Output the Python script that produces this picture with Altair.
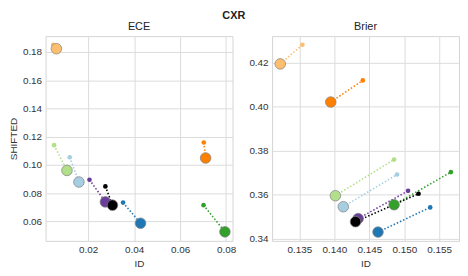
import altair as alt
import pandas as pd

series = ["s1", "s2", "s3", "s4", "s5", "s6", "s7", "s8"]
colors = ["#fdbf6f", "#ff7f00", "#b2df8a", "#33a02c", "#a6cee3", "#1f78b4", "#6a3d9a", "#000000"]

# ECE panel: small marker (before) and large marker (after)
ece_id_small = [0.0048, 0.0703, 0.0052, 0.0702, 0.0120, 0.0352, 0.0206, 0.0275]
ece_sh_small = [0.1851, 0.1159, 0.1140, 0.0715, 0.1054, 0.0733, 0.0895, 0.0848]
ece_id_large = [0.0062, 0.0711, 0.0108, 0.0795, 0.0160, 0.0428, 0.0275, 0.0306]
ece_sh_large = [0.1823, 0.1049, 0.0961, 0.0526, 0.0879, 0.0587, 0.0738, 0.0715]

# Brier panel
bri_id_small = [0.13542, 0.14406, 0.14854, 0.15667, 0.14897, 0.15371, 0.15054, 0.15204]
bri_sh_small = [0.4281, 0.4119, 0.3760, 0.3703, 0.3692, 0.3543, 0.3618, 0.3605]
bri_id_large = [0.13225, 0.13948, 0.14014, 0.14854, 0.14127, 0.14624, 0.14340, 0.14302]
bri_sh_large = [0.4194, 0.4021, 0.3596, 0.3555, 0.3546, 0.3431, 0.3492, 0.3478]

ece_x_ticks = [0.02, 0.04, 0.06, 0.08]
ece_y_ticks = [0.06, 0.08, 0.10, 0.12, 0.14, 0.16, 0.18]
bri_x_ticks = [0.135, 0.140, 0.145, 0.150, 0.155]
bri_y_ticks = [0.34, 0.36, 0.38, 0.40, 0.42]

ece_x_dom = [0.0015, 0.0828]
ece_y_dom = [0.0462, 0.1912]
bri_x_dom = [0.13108, 0.15783]
bri_y_dom = [0.3391, 0.4320]


def make_df(ids, shs, idl, shl):
    rows = []
    for i, s in enumerate(series):
        rows.append({"series": s, "order": i, "stage": "small", "ID": ids[i], "SHIFTED": shs[i]})
        rows.append({"series": s, "order": i, "stage": "large", "ID": idl[i], "SHIFTED": shl[i]})
    return pd.DataFrame(rows)


color_scale = alt.Scale(domain=series, range=colors)


def panel(df, title, xdom, ydom, xt, yt, xfmt, yfmt, ytitle):
    x = alt.X("ID:Q", scale=alt.Scale(domain=xdom, nice=False, zero=False),
              axis=alt.Axis(values=xt, format=xfmt, title="ID"))
    y = alt.Y("SHIFTED:Q", scale=alt.Scale(domain=ydom, nice=False, zero=False),
              axis=alt.Axis(values=yt, format=yfmt, title=ytitle if ytitle else None))
    base = alt.Chart(df)
    lines = base.mark_line(strokeDash=[1.5, 2], strokeWidth=1.6).encode(
        x=x, y=y, detail="series:N",
        color=alt.Color("series:N", scale=color_scale, legend=None))
    small = base.transform_filter(alt.datum.stage == "small").mark_circle(size=22, opacity=1).encode(
        x=x, y=y, color=alt.Color("series:N", scale=color_scale, legend=None), order="order:Q")
    large = base.transform_filter(alt.datum.stage == "large").mark_point(
        filled=True, size=115, opacity=1, stroke="#808080", strokeWidth=0.7, shape="circle").encode(
        x=x, y=y, fill=alt.Fill("series:N", scale=color_scale, legend=None), order="order:Q")
    return alt.layer(lines, small, large).properties(
        width=189, height=207,
        title=alt.TitleParams(title, fontSize=11, fontWeight="normal", offset=4, color="#222"))


left = panel(make_df(ece_id_small, ece_sh_small, ece_id_large, ece_sh_large), "ECE",
             ece_x_dom, ece_y_dom, ece_x_ticks, ece_y_ticks, ".2f", ".2f", "SHIFTED")
right = panel(make_df(bri_id_small, bri_sh_small, bri_id_large, bri_sh_large), "Brier",
              bri_x_dom, bri_y_dom, bri_x_ticks, bri_y_ticks, ".3f", ".2f", None)

chart = alt.hconcat(left, right, spacing=12).resolve_scale(
    x="independent", y="independent", color="independent", fill="independent"
).properties(
    title=alt.TitleParams("CXR", fontSize=11, fontWeight="bold", anchor="middle", offset=0, color="#222")
).configure(font="Liberation Sans", padding=0).configure_view(
    stroke="#d4d4d4", strokeWidth=1
).configure_axis(
    grid=True, gridColor="#dcdcdc", gridWidth=1, domain=False, ticks=False,
    labelFontSize=10, titleFontSize=10, titleFontWeight="normal",
    labelColor="#333", titleColor="#333", labelPadding=4, titlePadding=4
)

chart.save("out.html", embed_options={"renderer": "svg", "actions": False})
